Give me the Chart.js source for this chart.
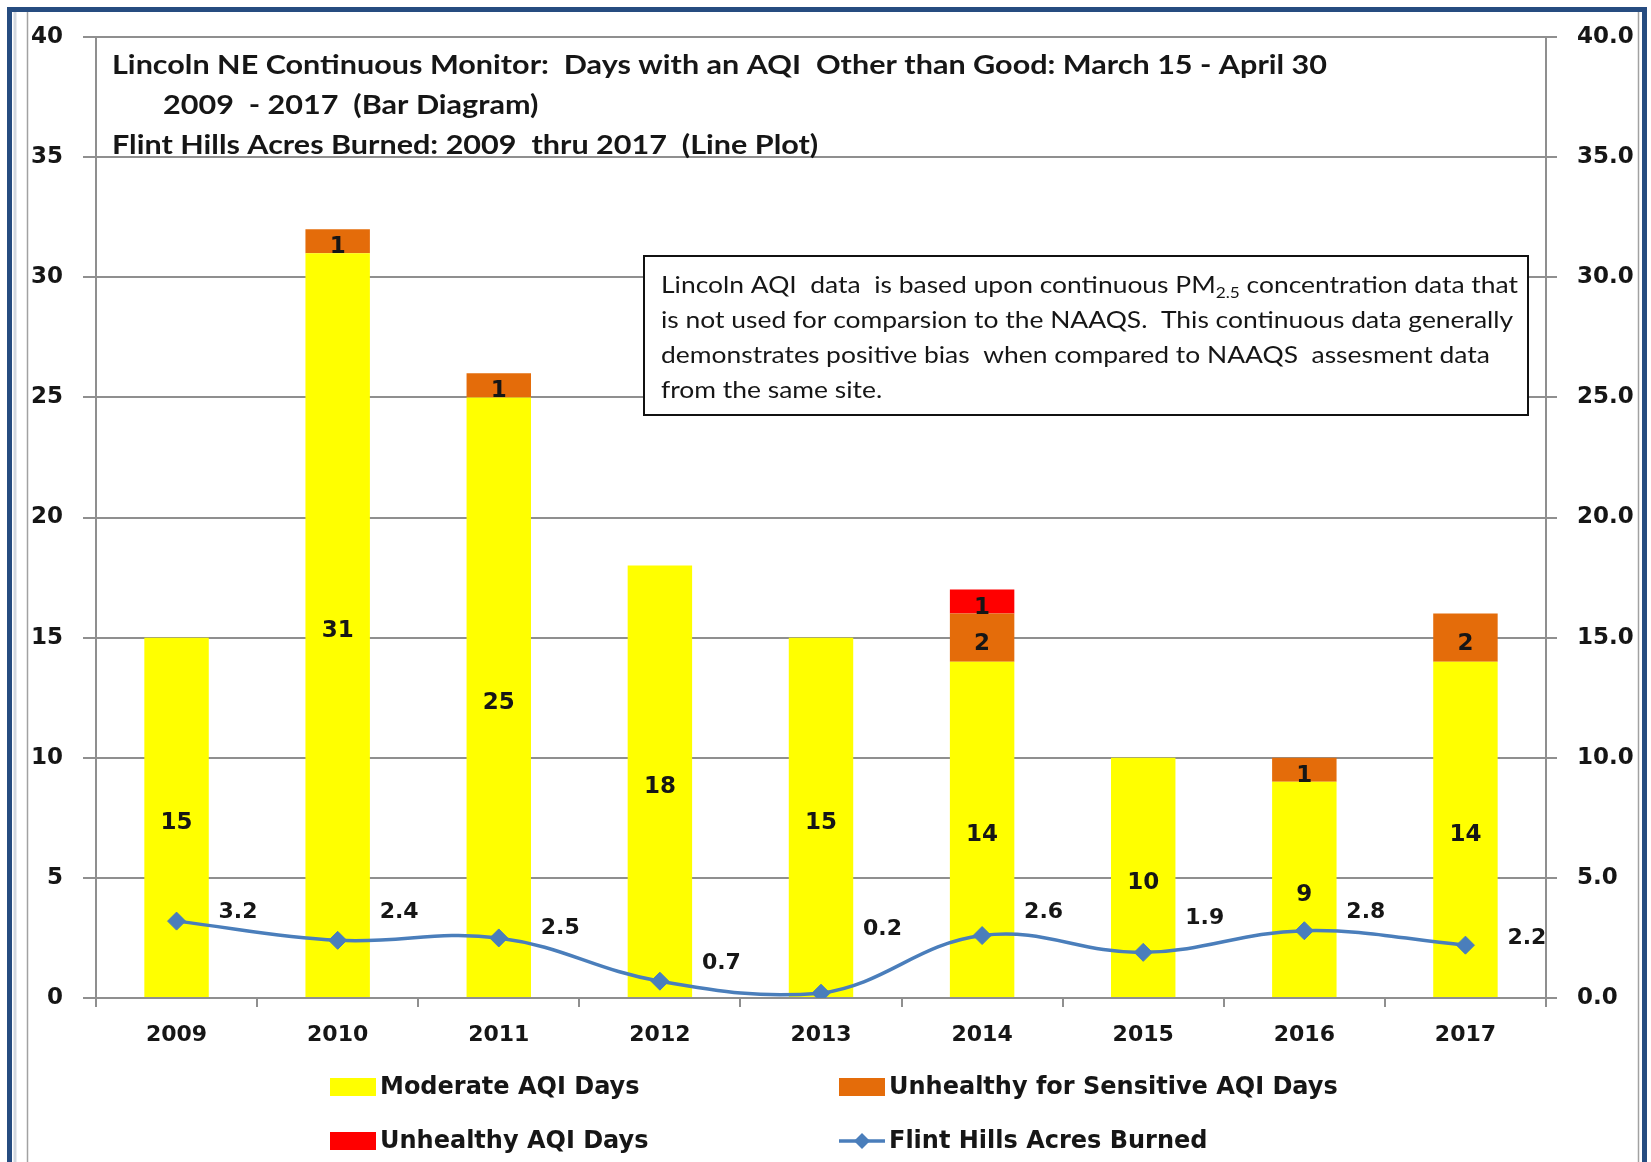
<!DOCTYPE html>
<html>
<head>
<meta charset="utf-8">
<title>Lincoln NE AQI days / Flint Hills acres burned</title>
<script src="https://cdn.jsdelivr.net/npm/chart.js@4.4.1/dist/chart.umd.min.js"></script>
<style>
  html, body { margin: 0; padding: 0; background: #fff; }
  #wrap { width: 1651px; height: 1162px; }
</style>
</head>
<body>
<div id="wrap"><canvas id="aqiChart" width="1651" height="1162"></canvas></div>
<script>
// 데이터
const years = ['2009', '2010', '2011', '2012', '2013', '2014', '2015', '2016', '2017'];
const moderateDays = [15, 31, 25, 18, 15, 14, 10, 9, 14];
const sensitiveDays = [0, 1, 1, 0, 0, 2, 0, 1, 2];
const unhealthyDays = [0, 0, 0, 0, 0, 1, 0, 0, 0];
const acresBurned = [3.2, 2.4, 2.5, 0.7, 0.2, 2.6, 1.9, 2.8, 2.2];
const dayTicks = [0, 5, 10, 15, 20, 25, 30, 35, 40];

const titleLines = [
    'Lincoln NE Continuous Monitor:  Days with an AQI  Other than Good: March 15 - April 30',
    '2009  - 2017  (Bar Diagram)',
    'Flint Hills Acres Burned: 2009  thru 2017  (Line Plot)'
];
const noteLines = [
    ['Lincoln AQI  data  is based upon continuous PM', '2.5', ' concentration data that'],
    ['is not used for comparsion to the NAAQS.  This continuous data generally'],
    ['demonstrates positive bias  when compared to NAAQS  assesment data'],
    ['from the same site.']
];

// 스타일
const gridGray = '#8f8f8f';
const inkColor = '#161616';
const lineBlue = '#4a7ebb';
const acresLabelLift = [-11, -30, -12, -20, -66, -25, -36, -20, -9]; // 라벨 세로 위치 보정(px)

// 바깥 테두리
const framePlugin = {
    id: 'frame',
    beforeDraw(chart) {
        const ctx = chart.ctx;
        ctx.save();
        ctx.fillStyle = '#fff';
        ctx.fillRect(0, 0, chart.width, chart.height);
        ctx.strokeStyle = '#d3d8df';
        ctx.lineWidth = 3;
        ctx.beginPath();
        ctx.moveTo(15, 12); ctx.lineTo(15, chart.height);
        ctx.stroke();
        ctx.strokeStyle = '#a2a2a2';
        ctx.lineWidth = 1.5;
        ctx.beginPath();
        ctx.moveTo(27.5, 12); ctx.lineTo(27.5, chart.height);
        ctx.moveTo(1638.5, 12); ctx.lineTo(1638.5, chart.height);
        ctx.stroke();
        ctx.strokeStyle = '#264c80';
        ctx.lineWidth = 5;
        ctx.strokeRect(9.5, 9.5, 1635, chart.height + 40);
        ctx.restore();
    }
};

// 막대/선 값 라벨
const valueLabelPlugin = {
    id: 'valueLabels',
    afterDatasetsDraw(chart) {
        const ctx = chart.ctx;
        ctx.save();
        ctx.fillStyle = inkColor;
        chart.data.datasets.forEach((ds, di) => {
            const meta = chart.getDatasetMeta(di);
            meta.data.forEach((el, i) => {
                const v = ds.data[i];
                ctx.textBaseline = 'middle';
                if (ds.type === 'bar') {
                    if (!v) return;
                    ctx.font = 'bold 23px "DejaVu Sans"';
                    ctx.textAlign = 'center';
                    ctx.fillText(String(v), el.x, (el.y + el.base) / 2 + 6);
                } else {
                    ctx.font = 'bold 22px "DejaVu Sans"';
                    ctx.textAlign = 'left';
                    ctx.fillText(v.toFixed(1), el.x + 42, el.y + acresLabelLift[i] + 2);
                }
            });
        });
        ctx.restore();
    }
};

// 제목, 설명 상자, 범례
const textPlugin = {
    id: 'texts',
    afterDraw(chart) {
        const ctx = chart.ctx;
        ctx.save();
        ctx.fillStyle = inkColor;
        ctx.textBaseline = 'middle';
        ctx.textAlign = 'left';

        // 제목
        ctx.font = 'bold 26px Lato';
        const tx = 1215 / ctx.measureText(titleLines[0]).width;
        const titleX = [112, 163, 112];
        const titleY = [66, 106, 146];
        titleLines.forEach((t, i) => {
            ctx.save();
            ctx.translate(titleX[i], titleY[i]);
            ctx.scale(tx, 1);
            ctx.fillText(t, 0, 0);
            ctx.restore();
        });

        // 설명 상자
        ctx.fillStyle = '#fff';
        ctx.fillRect(644, 256, 884, 159);
        ctx.strokeStyle = '#111';
        ctx.lineWidth = 2;
        ctx.strokeRect(644, 256, 884, 159);
        ctx.fillStyle = inkColor;
        const mainFont = '23px Lato', subFont = '15px Lato';
        const segWidth = (s, k) => {
            ctx.font = k === 1 ? subFont : mainFont;
            return ctx.measureText(s).width;
        };
        const w0 = noteLines[0].reduce((a, s, k) => a + segWidth(s, k), 0);
        const nx = 857 / w0;
        noteLines.forEach((parts, i) => {
            ctx.save();
            ctx.translate(661, 286 + i * 35);
            ctx.scale(nx, 1);
            let x = 0;
            parts.forEach((s, k) => {
                ctx.font = k === 1 ? subFont : mainFont;
                ctx.fillText(s, x, k === 1 ? 7 : 0);
                x += ctx.measureText(s).width;
            });
            ctx.restore();
        });

        // 범례
        const colX = [330, 839];
        const rowY = [1087, 1141];
        ctx.font = 'bold 24px "DejaVu Sans"';
        chart.data.datasets.forEach((ds, i) => {
            const x = colX[i % 2], y = rowY[Math.floor(i / 2)];
            if (ds.type === 'bar') {
                ctx.fillStyle = ds.backgroundColor;
                ctx.fillRect(x, y - 9, 46, 18);
            } else {
                ctx.strokeStyle = ds.borderColor;
                ctx.lineWidth = 3.5;
                ctx.beginPath();
                ctx.moveTo(x, y); ctx.lineTo(x + 46, y);
                ctx.stroke();
                ctx.fillStyle = ds.borderColor;
                ctx.beginPath();
                ctx.moveTo(x + 23, y - 8); ctx.lineTo(x + 31, y);
                ctx.lineTo(x + 23, y + 8); ctx.lineTo(x + 15, y);
                ctx.closePath();
                ctx.fill();
            }
            ctx.fillStyle = inkColor;
            ctx.fillText(ds.label, x + 50, y + 1);
        });
        ctx.restore();
    }
};

const tickFont = { family: 'DejaVu Sans', weight: 'bold', size: 23 };

const barSet = (label, data, color) => ({
    type: 'bar',
    label: label,
    data: data,
    backgroundColor: color,
    borderWidth: 0,
    stack: 'days',
    yAxisID: 'y',
    order: 1,
    barPercentage: 0.4,
    categoryPercentage: 1.0
});

new Chart(document.getElementById('aqiChart').getContext('2d'), {
    data: {
        labels: years,
        datasets: [
            barSet('Moderate AQI Days', moderateDays, '#ffff00'),
            barSet('Unhealthy for Sensitive AQI Days', sensitiveDays, '#e46c0a'),
            barSet('Unhealthy AQI Days', unhealthyDays, '#ff0000'),
            {
                type: 'line',
                label: 'Flint Hills Acres Burned',
                data: acresBurned,
                yAxisID: 'y1',
                order: 0,
                borderColor: lineBlue,
                borderWidth: 3.5,
                tension: 0.4,
                pointStyle: 'rectRot',
                pointRadius: 9,
                pointBackgroundColor: lineBlue,
                pointBorderColor: lineBlue,
                pointBorderWidth: 1
            }
        ]
    },
    options: {
        responsive: false,
        animation: false,
        devicePixelRatio: 1,
        layout: { padding: { top: 37, left: 0, right: 0, bottom: 0 } },
        plugins: {
            legend: { display: false },
            tooltip: { enabled: false }
        },
        scales: {
            x: {
                stacked: true,
                offset: true,
                grid: { drawOnChartArea: false, tickLength: 9, color: gridGray, lineWidth: 2, offset: true },
                border: { color: gridGray, width: 2 },
                ticks: { font: { family: 'DejaVu Sans', weight: 'bold', size: 22 }, color: inkColor, padding: 15, maxRotation: 0 },
                afterFit: s => { s.height = 164; }
            },
            y: {
                stacked: true,
                position: 'left',
                min: 0,
                max: 40,
                afterBuildTicks: s => { s.ticks = dayTicks.map(v => ({ value: v })); },
                grid: { color: gridGray, lineWidth: 2, tickLength: 13 },
                border: { color: gridGray, width: 2 },
                ticks: { font: tickFont, color: inkColor, padding: 20 },
                afterFit: s => { s.width = 96; }
            },
            y1: {
                position: 'right',
                min: 0,
                max: 40,
                afterBuildTicks: s => { s.ticks = dayTicks.map(v => ({ value: v })); },
                grid: { drawOnChartArea: false, color: gridGray, lineWidth: 2, tickLength: 11 },
                border: { color: gridGray, width: 2 },
                ticks: { font: tickFont, color: inkColor, padding: 20, callback: v => Number(v).toFixed(1) },
                afterFit: s => { s.width = 105; }
            }
        }
    },
    plugins: [framePlugin, valueLabelPlugin, textPlugin]
});
</script>
</body>
</html>
